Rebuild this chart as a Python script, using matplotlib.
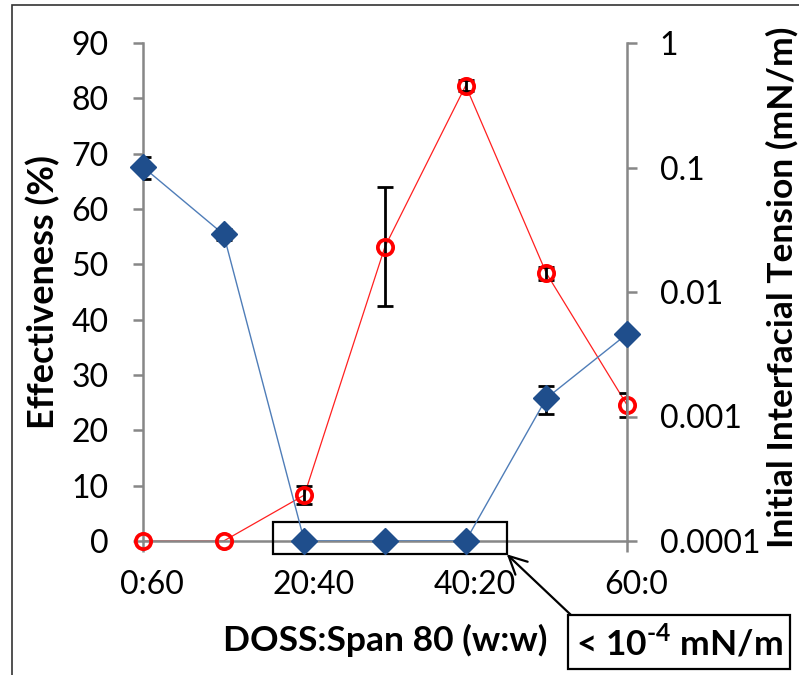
import numpy as np
import matplotlib.pyplot as plt
from matplotlib.patches import Rectangle
from matplotlib.transforms import ScaledTranslation

plt.rcParams['font.family'] = ['Lato', 'DejaVu Sans']
plt.rcParams['mathtext.fontset'] = 'custom'
plt.rcParams['mathtext.rm'] = 'Lato:bold'
plt.rcParams['mathtext.bf'] = 'Lato:bold'

# data
ratios = ['0:60', '10:50', '20:40', '30:30', '40:20', '50:10', '60:0']
effectiveness = [0, 0, 8.3, 53.2, 82.3, 48.4, 24.6]
effectiveness_err = [0, 0, 1.7, 10.7, 1.0, 1.2, 2.1]
ift = [0.101, 0.029, 1e-4, 1e-4, 1e-4, 0.0014, 0.0046]
ift_err = [0.02, 0.003, 0, 0, 0, 0.00036, 0]
eff_ticks = [0, 10, 20, 30, 40, 50, 60, 70, 80, 90]
ift_ticks = [0.0001, 0.001, 0.01, 0.1, 1]
ift_labels = ['0.0001', '0.001', '0.01', '0.1', '1']

gray = '#878787'
x = np.arange(len(ratios))

fig = plt.figure(figsize=(7.99, 6.75), dpi=100)
ax = fig.add_axes([143 / 799, 134 / 675, 484 / 799, 498 / 675])
ax2 = ax.twinx()

# red series: effectiveness
ax.plot(x, effectiveness, color='#ff2020', lw=0.9, zorder=2)
idx = [i for i, e in enumerate(effectiveness_err) if e > 0]
ax.errorbar(x[idx], np.array(effectiveness)[idx], yerr=np.array(effectiveness_err)[idx],
            fmt='none', ecolor='black', elinewidth=2, capsize=6, capthick=2, zorder=3)
ax.plot(x, effectiveness, 'o', ms=11, mfc='none', mec='#ff0000', mew=2.7, zorder=4,
        clip_on=False)

# blue series: interfacial tension
ax2.plot(x, ift, color='#4f7db8', lw=1.0, zorder=2)
idx = [i for i, e in enumerate(ift_err) if e > 0]
ax2.errorbar(x[idx], np.array(ift)[idx], yerr=np.array(ift_err)[idx],
             fmt='none', ecolor='black', elinewidth=2, capsize=6, capthick=2, zorder=3)
ax2.plot(x, ift, 'D', ms=13, color='#1f4e8c', zorder=4, clip_on=False)

ax.set_xlim(0, len(ratios) - 1)
ax.set_ylim(0, 90)
ax2.set_yscale('log')
ax2.set_ylim(1e-4, 1)

ax.set_yticks(eff_ticks)
ax2.set_yticks(ift_ticks)
ax2.set_yticklabels(ift_labels)
ax2.yaxis.set_minor_locator(plt.NullLocator())
ax.set_xticks(x[::2])
ax.set_xticklabels(ratios[::2])

for a in (ax, ax2):
    for s in a.spines.values():
        s.set_visible(False)
ax.spines['left'].set_visible(True)
ax.spines['bottom'].set_visible(True)
ax2.spines['right'].set_visible(True)
for s in (ax.spines['left'], ax.spines['bottom'], ax2.spines['right']):
    s.set_color(gray)
    s.set_linewidth(1.8)

ax.tick_params(axis='y', direction='out', length=7.5, width=1.8, color=gray,
               labelsize=23, pad=17)
ax.tick_params(axis='x', direction='out', length=8, width=1.8, color=gray,
               labelsize=23, pad=13)
ax2.tick_params(axis='y', direction='out', length=7.5, width=1.8, color=gray,
                labelsize=23, pad=16)
for lbl in ax.get_xticklabels():
    lbl.set_transform(lbl.get_transform() + ScaledTranslation(9 / 100, 0, fig.dpi_scale_trans))

fig.text(43 / 799, 1 - 292 / 675, 'Effectiveness (%)', rotation=90, ha='center', va='center',
         fontsize=26, fontweight='bold')
fig.text(782 / 799, 1 - 287 / 675, 'Initial Interfacial Tension (mN/m)', rotation=90,
         ha='center', va='center', fontsize=25.5, fontweight='bold')
fig.text(385 / 799, 1 - 640 / 675, 'DOSS:Span 80 (w:w)', ha='center', va='center',
         fontsize=25.5, fontweight='bold')

# box around the points below the measurable range
low = [i for i, v in enumerate(ift) if v <= 1e-4]
x0, x1 = low[0] - 0.39, low[-1] + 0.51
rect = Rectangle((x0, -2.4), x1 - x0, 5.9, fill=False, ec='black', lw=1.6,
                 clip_on=False, zorder=5)
ax.add_patch(rect)
ax.annotate(r'< 10$^{\text{-}4}$ mN/m', xy=(x1, -2.4), xycoords='data',
            xytext=(679 / 799, 1 - 642 / 675), textcoords='figure fraction',
            ha='center', va='center', fontsize=25.5, fontweight='bold',
            bbox=dict(boxstyle='square,pad=0.22', fc='white', ec='black', lw=1.6),
            arrowprops=dict(arrowstyle='->', lw=1.6, color='black', mutation_scale=32,
                            relpos=(0.02, 1.0), shrinkA=0, shrinkB=0),
            zorder=6, annotation_clip=False)

# outer frame
frame = Rectangle((12 / 799, -0.1), 1.2, 1.1 - 5 / 675, transform=fig.transFigure,
                  fill=False, ec='#333333', lw=1.2)
fig.patches.append(frame)

fig.savefig('out.png', dpi=100)
